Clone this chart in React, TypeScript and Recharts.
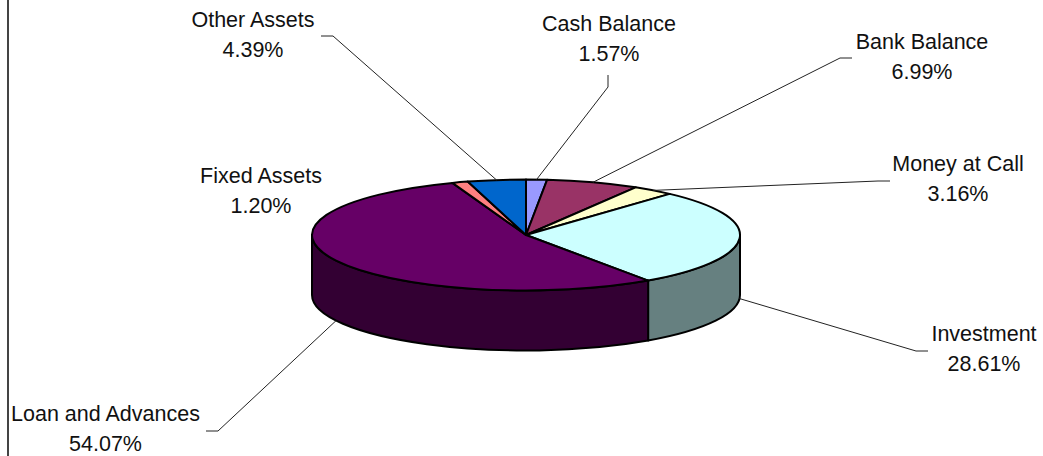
import React from "react";
import { PieChart, Pie, Cell } from "recharts";

const categories = ["Cash Balance", "Bank Balance", "Money at Call", "Investment", "Loan and Advances", "Fixed Assets", "Other Assets"];
const shares = [1.57, 6.99, 3.16, 28.61, 54.07, 1.2, 4.39];
const colors = ["#9999FF", "#993366", "#FFFFCC", "#CCFFFF", "#660066", "#FF8080", "#0066CC"];

const tableData = categories.map((name, i) => ({ name, value: shares[i], fill: colors[i] }));

const RX = 214;
const RY = 55.5;
const DEPTH = 60;

// text centre, first baseline, leader elbow, leader end
const labelLayout = [
  { x: 609, y: 31, elbow: [608, 87], end: [608, 75] },
  { x: 922, y: 49, elbow: [840, 58], end: [852, 58] },
  { x: 958, y: 171, elbow: [878, 181], end: [890, 181] },
  { x: 984, y: 341, elbow: [916, 351], end: [928, 351] },
  { x: 105.5, y: 421, elbow: [218, 431], end: [206, 431] },
  { x: 261, y: 183, elbow: null, end: null },
  { x: 253, y: 27, elbow: [333, 36], end: [321, 36] },
];

const shade = (hex: string) => {
  const n = parseInt(hex.slice(1), 16);
  const c = [(n >> 16) & 255, (n >> 8) & 255, n & 255].map((v) => Math.round(v / 2));
  return `rgb(${c[0]},${c[1]},${c[2]})`;
};

const pt = (cx: number, cy: number, deg: number, dy = 0): [number, number] => {
  const t = ((90 - deg) * Math.PI) / 180;
  return [cx + RX * Math.sin(t), cy - RY * Math.cos(t) + dy];
};

const Slice3D = (props: any) => {
  const { cx, cy, startAngle, endAngle, fill } = props;
  const [sx, sy] = pt(cx, cy, startAngle);
  const [ex, ey] = pt(cx, cy, endAngle);
  const large = Math.abs(startAngle - endAngle) > 180 ? 1 : 0;
  const top = `M${cx},${cy}L${sx},${sy}A${RX},${RY} 0 ${large} 1 ${ex},${ey}Z`;
  // Visible wall: clockwise-from-top angles between 90 and 270 => math angles 0 to -180
  const a = Math.min(startAngle, 0);
  const b = Math.max(endAngle, -180);
  let wall = null;
  if (a > b) {
    const [ax, ay] = pt(cx, cy, a);
    const [bx, by] = pt(cx, cy, b);
    const d = `M${ax},${ay}A${RX},${RY} 0 0 1 ${bx},${by}L${bx},${by + DEPTH}A${RX},${RY} 0 0 0 ${ax},${ay + DEPTH}Z`;
    wall = <path d={d} fill={shade(fill)} stroke="#000" strokeWidth={2} strokeLinejoin="round" />;
  }
  return (
    <g>
      {wall}
      <path d={top} fill={fill} stroke="#000" strokeWidth={2} strokeLinejoin="round" />
    </g>
  );
};

const SliceLabel = (props: any) => {
  const { cx, cy, midAngle, index } = props;
  const layout = labelLayout[index];
  const t = ((90 - midAngle) % 360 + 360) % 360;
  const front = t > 90 && t < 270;
  const [mx, my] = pt(cx, cy, midAngle, front ? DEPTH : 0);
  const font = { fontFamily: "'Liberation Sans', Arial, sans-serif", fontSize: 21.5, fill: "#111" };
  return (
    <g>
      {layout.elbow && (
        <polyline
          points={`${mx},${my} ${layout.elbow[0]},${layout.elbow[1]} ${layout.end![0]},${layout.end![1]}`}
          fill="none"
          stroke="#222"
          strokeWidth={1}
        />
      )}
      <text x={layout.x} y={layout.y} textAnchor="middle" {...font}>{categories[index]}</text>
      <text x={layout.x} y={layout.y + 30} textAnchor="middle" {...font}>{shares[index].toFixed(2)}%</text>
    </g>
  );
};

export default function App() {
  return (
    <div style={{ position: "fixed", left: 0, top: 0, width: 1043, height: 456, background: "#fff", overflow: "hidden" }}>
      <div style={{ position: "absolute", left: 7, top: 0, width: 2, height: 456, background: "#444" }} />
      <PieChart width={1043} height={456} margin={{ top: 0, right: 0, bottom: 0, left: 0 }}>
        <Pie
          data={tableData}
          dataKey="value"
          nameKey="name"
          cx={526}
          cy={235}
          outerRadius={214}
          startAngle={90}
          endAngle={-270}
          paddingAngle={0}
          isAnimationActive={false}
          shape={Slice3D}
          activeShape={Slice3D}
          inactiveShape={Slice3D}
          label={SliceLabel}
          labelLine={false}
        >
          {tableData.map((d) => (
            <Cell key={d.name} fill={d.fill} />
          ))}
        </Pie>
      </PieChart>
    </div>
  );
}
